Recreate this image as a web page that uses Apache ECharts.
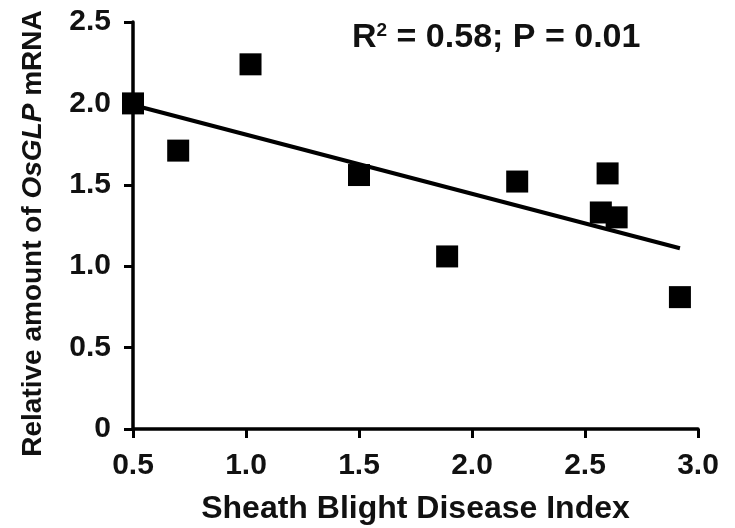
<!DOCTYPE html>
<html lang="en">
<head>
    <meta charset="utf-8">
    <title>OsGLP vs sheath blight</title>
    <script src="https://cdn.jsdelivr.net/npm/echarts@6/dist/echarts.min.js"></script>
    <style>
        html, body { margin: 0; padding: 0; background: #fff; }
    </style>
</head>
<body>

<div id="main" style="width: 735px;height:528px;"></div>

<script>
    // disease index (x) and relative mRNA amount (y)
    var diseaseIndex = [0.5, 0.7, 1.02, 1.5, 1.89, 2.2, 2.6, 2.57, 2.64, 2.92];
    var mrnaAmount = [2.0, 1.71, 2.24, 1.56, 1.06, 1.52, 1.57, 1.33, 1.30, 0.81];
    // fitted line end points as drawn
    var trendX = [0.5, 2.92];
    var trendY = [1.99, 1.11];
    var xTicks = [0.5, 1.0, 1.5, 2.0, 2.5, 3.0];
    var yTicks = [0, 0.5, 1.0, 1.5, 2.0, 2.5];

    var font = '"Liberation Sans", Arial, sans-serif';
    var myChart = echarts.init(document.getElementById('main'));

    var axisStyle = {
        axisLine: { show: true, lineStyle: { color: '#000', width: 3.5 } },
        axisTick: { show: true, inside: false, length: 9, lineStyle: { color: '#000', width: 3 } }
    };

    var option = {
        animation: false,
        grid: { left: 133, right: 37, top: 22, bottom: 99, outerBoundsMode: 'none', containLabel: false },
        xAxis: {
            type: 'value',
            min: xTicks[0],
            max: xTicks[xTicks.length - 1],
            interval: 0.5,
            name: 'Sheath Blight Disease Index',
            nameLocation: 'middle',
            nameGap: 64,
            nameTextStyle: { fontFamily: font, fontWeight: 'bold', fontSize: 32, color: '#111' },
            axisLine: axisStyle.axisLine,
            axisTick: axisStyle.axisTick,
            axisLabel: {
                margin: 22, fontFamily: font, fontWeight: 'bold', fontSize: 30, color: '#111',
                formatter: function (v) { return v.toFixed(1); }
            },
            splitLine: { show: false }
        },
        yAxis: {
            type: 'value',
            min: yTicks[0],
            max: yTicks[yTicks.length - 1],
            interval: 0.5,
            name: '{n|Relative amount of }{i|OsGLP}{n| mRNA}',
            nameLocation: 'middle',
            nameGap: 86,
            nameTextStyle: {
                padding: [0, 16, 0, 0],
                rich: {
                    n: { fontFamily: font, fontWeight: 'bold', fontSize: 28, color: '#111' },
                    i: { fontFamily: font, fontWeight: 'bold', fontStyle: 'italic', fontSize: 28, color: '#111' }
                }
            },
            axisLine: axisStyle.axisLine,
            axisTick: axisStyle.axisTick,
            axisLabel: {
                margin: 22, fontFamily: font, fontWeight: 'bold', fontSize: 30, color: '#111',
                formatter: function (v) { return v === 0 ? '0' : v.toFixed(1); }
            },
            splitLine: { show: false }
        },
        graphic: [{
            type: 'text',
            left: 352,
            top: 21,
            style: {
                text: '{a|R}{s|2}{a| = 0.58; P = 0.01}',
                rich: {
                    a: { fontFamily: font, fontWeight: 'bold', fontSize: 34, fill: '#111' },
                    s: { fontFamily: font, fontWeight: 'bold', fontSize: 19, fill: '#111', verticalAlign: 'top', padding: [0, 0, 13, 0] }
                }
            }
        }],
        series: [
            {
                type: 'line',
                data: trendX.map(function (x, i) { return [x, trendY[i]]; }),
                symbol: 'none',
                lineStyle: { color: '#000', width: 4 },
                z: 2
            },
            {
                type: 'scatter',
                data: diseaseIndex.map(function (x, i) { return [x, mrnaAmount[i]]; }),
                symbol: 'rect',
                symbolSize: 22,
                itemStyle: { color: '#000', opacity: 1 },
                z: 3
            }
        ]
    };

    myChart.setOption(option);
</script>
</body>
</html>
